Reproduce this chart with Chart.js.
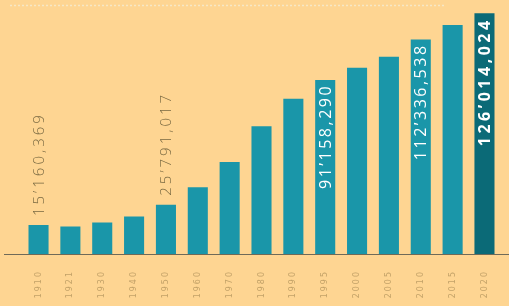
<!DOCTYPE html>
<html lang="es">
<head>
  <meta charset="UTF-8">
  <title>Población</title>
  <script src="https://cdn.jsdelivr.net/npm/chart.js"></script>
  <style>
    html, body {
      margin: 0;
      padding: 0;
      background-color: #fed592;
    }
    #wrap {
      width: 509px;
      height: 306px;
    }
  </style>
</head>
<body>
<div id="wrap">
  <canvas id="popChart" width="509" height="306"></canvas>
</div>
<script>
  // censos
  const years = ['1910', '1921', '1930', '1940', '1950', '1960', '1970', '1980',
                 '1990', '1995', '2000', '2005', '2010', '2015', '2020'];
  const population = [15160369, 14334780, 16552722, 19653552, 25791017, 34923129,
                      48225238, 66846833, 81249645, 91158290, 97483412, 103263388,
                      112336538, 119938473, 126014024];
  const labelledAbove = ['1910', '1950'];
  const labelledInside = ['1995', '2010', '2020'];

  const barColor = '#1a96a9';
  const lastColor = '#0b6a77';

  function fmt(v) {
    const s = v.toString();
    const mill = s.slice(0, s.length - 6);
    const thou = s.slice(s.length - 6, s.length - 3);
    const unit = s.slice(s.length - 3);
    return mill + '\u2019' + thou + ',' + unit;
  }

  const decor = {
    id: 'decor',
    beforeDraw(chart) {
      const ctx = chart.ctx;
      ctx.save();
      // dotted line at top
      ctx.strokeStyle = '#f6e8c6';
      ctx.lineWidth = 1.5;
      ctx.setLineDash([2, 2]);
      ctx.beginPath();
      ctx.moveTo(10, 5.5);
      ctx.lineTo(446, 5.5);
      ctx.stroke();
      ctx.restore();
      // wide tick labels
      ctx.letterSpacing = '2px';
    },
    afterDatasetsDraw(chart) {
      const ctx = chart.ctx;
      const area = chart.chartArea;
      const meta = chart.getDatasetMeta(0);
      ctx.save();
      // baseline
      ctx.strokeStyle = '#6f6a58';
      ctx.lineWidth = 1;
      ctx.beginPath();
      ctx.moveTo(4, area.bottom + 0.5);
      ctx.lineTo(509, area.bottom + 0.5);
      ctx.stroke();

      meta.data.forEach((bar, i) => {
        const yr = years[i];
        const txt = fmt(population[i]);
        ctx.save();
        ctx.translate(bar.x, bar.y);
        ctx.rotate(-Math.PI / 2);
        ctx.textBaseline = 'middle';
        if (labelledAbove.includes(yr)) {
          ctx.font = '300 15px "Open Sans"';
          ctx.letterSpacing = '3px';
          ctx.fillStyle = '#7a6a42';
          ctx.textAlign = 'left';
          ctx.fillText(txt, 9, 1);
        } else if (labelledInside.includes(yr)) {
          const bold = yr === '2020';
          ctx.font = (bold ? '700 ' : '400 ') + '16px "Open Sans"';
          ctx.letterSpacing = bold ? '3.5px' : '2.5px';
          ctx.fillStyle = '#ffffff';
          ctx.textAlign = 'right';
          ctx.fillText(txt, -4, 1);
        }
        ctx.restore();
      });
      ctx.restore();
    }
  };

  new Chart(document.getElementById('popChart'), {
    type: 'bar',
    data: {
      labels: years,
      datasets: [{
        data: population,
        backgroundColor: years.map((y, i) => i === years.length - 1 ? lastColor : barColor),
        barPercentage: 0.7,
        categoryPercentage: 0.9
      }]
    },
    options: {
      responsive: false,
      animation: false,
      layout: { padding: { left: 22.6, right: 8.6, top: 0, bottom: 0 } },
      plugins: {
        legend: { display: false },
        tooltip: { enabled: false }
      },
      scales: {
        x: {
          grid: { display: false },
          border: { display: false },
          ticks: {
            minRotation: 90,
            maxRotation: 90,
            color: '#c3a268',
            font: { family: 'DejaVu Sans', size: 8 },
            padding: 8
          },
          afterFit(scale) { scale.height = 52; }
        },
        y: {
          display: false,
          min: 0,
          max: 133000000
        }
      }
    },
    plugins: [decor]
  });
</script>
</body>
</html>
